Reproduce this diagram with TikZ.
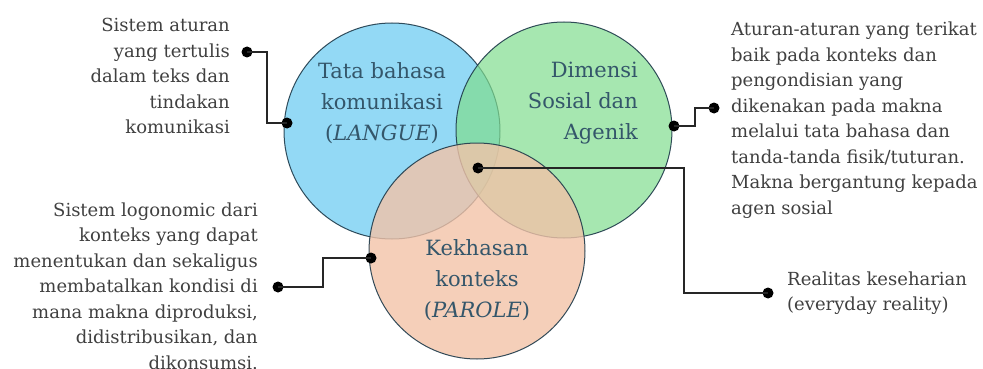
\documentclass[tikz,border=0pt]{standalone}
\usepackage{fontspec}
\setmainfont{DejaVu Serif}
\usetikzlibrary{positioning}
\definecolor{langcolor}{HTML}{27B3EB}
\definecolor{sosialcolor}{HTML}{80DD8E}
\definecolor{parolecolor}{HTML}{F2C3A8}
\definecolor{rimcolor}{HTML}{1E3A4A}
\definecolor{inkcolor}{HTML}{34566A}
\definecolor{notecolor}{HTML}{404040}

\tikzset{
  venn/.style={draw=rimcolor, line width=1pt, draw opacity=0.9, circle, minimum size=216pt, inner sep=0pt},
  venntext/.style={text=inkcolor, inner sep=0pt, font=\fontsize{21pt}{31pt}\selectfont},
  note/.style={text=notecolor, inner sep=0pt, font=\fontsize{18pt}{25.5pt}\selectfont},
  pin/.style={circle, fill=black, minimum size=11pt, inner sep=0pt},
  wire/.style={line width=1.6pt, black!85}
}

\begin{document}
\begin{tikzpicture}[x=1pt, y=-1pt]%
\useasboundingbox (0,0) rectangle (983,369);%
% the three circles
\node[venn, fill=langcolor, fill opacity=0.5] (langue) at (392,131) {};%
\node[venn, fill=sosialcolor, fill opacity=0.7] (sosial) at (564,130) {};%
\node[venn, fill=parolecolor, fill opacity=0.8] (parole) at (477,251) {};%
% texts inside
\node[venntext, align=center] (tlangue) at (382,103) {Tata bahasa\\komunikasi\\(\textit{LANGUE})};%
\node[venntext, align=right, anchor=east] (tsosial) at (638,103) {Dimensi\\Sosial dan\\Agenik};%
\node[venntext, align=center] (tparole) at (477,280) {Kekhasan\\konteks\\(\textit{PAROLE})};%
% notes
\node[note, align=right, anchor=east] (nlangue) at (230,76) {Sistem aturan\\yang tertulis\\dalam teks dan\\tindakan\\komunikasi};%
\node[note, align=right, anchor=east] (nparole) at (258,286) {Sistem logonomic dari\\konteks yang dapat\\menentukan dan sekaligus\\membatalkan kondisi di\\mana makna diproduksi,\\didistribusikan, dan\\dikonsumsi.};%
\node[note, align=left, anchor=west] (nsosial) at (731,120) {Aturan-aturan yang terikat\\baik pada konteks dan\\pengondisian yang\\dikenakan pada makna\\melalui tata bahasa dan\\tanda-tanda fisik/tuturan.\\Makna bergantung kepada\\agen sosial};%
\node[note, align=left, anchor=west] (nreal) at (787,293) {Realitas keseharian\\(everyday reality)};%
% pins
\node[pin] (p1) at (247,52) {};%
\node[pin] (q1) at (287,123) {};%
\node[pin] (p2) at (278,287) {};%
\node[pin] (q2) at (371,258) {};%
\node[pin] (p3) at (714,108) {};%
\node[pin] (q3) at (674,126) {};%
\node[pin] (p4) at (478,168) {};%
\node[pin] (q4) at (768,293) {};%
% wires
\draw[wire] (p1.center) -- ++(20,0) |- (q1.center);%
\draw[wire] (p2.center) -- ++(45,0) |- (q2.center);%
\draw[wire] (p3.center) -- ++(-19,0) |- (q3.center);%
\draw[wire] (p4.center) -- ++(206,0) |- (q4.center);%
\end{tikzpicture}
\end{document}
